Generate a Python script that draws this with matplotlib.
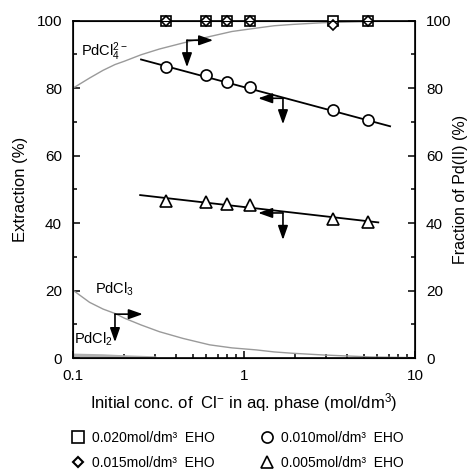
import numpy as np
import matplotlib
matplotlib.use('Agg')
import matplotlib.pyplot as plt
from matplotlib.lines import Line2D

plt.rcParams['font.family'] = ['Liberation Sans', 'DejaVu Sans']
plt.rcParams['mathtext.fontset'] = 'custom'
plt.rcParams['mathtext.rm'] = 'Liberation Sans'
plt.rcParams['mathtext.default'] = 'regular'
plt.rcParams['font.size'] = 11

# data
conc = [0.35, 0.6, 0.8, 1.08, 3.3, 5.3]
ext_020 = [100, 100, 100, 100, 100, 100]
ext_015 = [100, 100, 100, 100, 98.8, 100]
ext_010 = [86.3, 83.9, 81.7, 80.2, 73.5, 70.5]
ext_005 = [46.6, 46.3, 45.6, 45.5, 41.1, 40.4]

# fitted lines (end points)
fit_x_010 = [0.25, 7.15]
fit_y_010 = [88.5, 68.7]
fit_x_005 = [0.247, 6.1]
fit_y_005 = [48.3, 40.2]

# species fractions
spec_x = [0.1, 0.125, 0.15, 0.176, 0.2, 0.25, 0.32, 0.44, 0.63, 0.85, 1.18, 1.5, 1.93, 2.9, 4.0, 5.6, 7.5, 10]
pdcl4 = [80.0, 83.0, 85.3, 87.0, 88.0, 89.9, 91.6, 93.4, 95.3, 96.8, 97.8, 98.5, 98.9, 99.4, 99.6, 99.8, 99.85, 99.9]
pdcl3 = [20.1, 16.5, 14.5, 13.2, 11.8, 9.8, 7.8, 5.8, 3.9, 3.0, 2.4, 1.8, 1.4, 0.9, 0.6, 0.3, 0.2, 0.1]
pdcl2_x = [0.1, 0.15, 0.2, 0.3]
pdcl2 = [0.8, 0.6, 0.3, 0.0]

fig = plt.figure(figsize=(4.7, 4.7), dpi=100)
ax = fig.add_axes([73/470, 1-358/470, 342/470, 337.3/470])
ax.set_xscale('log')
ax.set_xlim(0.1, 10)
ax.set_ylim(0, 100)

gray = '#9a9a9a'
ax.plot(spec_x, pdcl4, color=gray, lw=1.0)
ax.plot(spec_x, pdcl3, color=gray, lw=1.0)
ax.plot(pdcl2_x, pdcl2, color='#b0b0b0', lw=2.5)

ax.plot(fit_x_010, fit_y_010, color='k', lw=1.3)
ax.plot(fit_x_005, fit_y_005, color='k', lw=1.3)

mk = dict(ls='none', mfc='white', mec='k', mew=1.2, clip_on=False, zorder=5)
ax.plot(conc, ext_020, marker='s', ms=7.5, **mk)
ax.plot(conc, ext_015, marker='D', ms=5, **mk)
ax.plot(conc, ext_010, marker='o', ms=8, **mk)
ax.plot(conc, ext_005, marker='^', ms=8, **mk)

# L-shaped arrows: (corner, horizontal tip, vertical tip)
arrows = [((0.464, 94.2), (0.66, 94.2), (0.464, 86.2)),
          ((1.69, 77.0), (1.21, 77.0), (1.69, 69.3)),
          ((1.69, 43.0), (1.21, 43.0), (1.69, 35.0)),
          ((0.176, 13.0), (0.256, 13.0), (0.176, 4.7))]
aprops = dict(arrowstyle='-|>,head_length=0.85,head_width=0.3', color='k',
              lw=1.2, shrinkA=0, shrinkB=0, mutation_scale=10)
for corner, htip, vtip in arrows:
    ax.annotate('', xy=htip, xytext=corner, arrowprops=aprops)
    ax.annotate('', xy=vtip, xytext=corner, arrowprops=aprops)

ax.text(0.112, 90.7, r'PdCl$_4^{2-}$', fontsize=10.5, va='center')
ax.text(0.135, 20.3, r'PdCl$_3$', fontsize=10.5, va='center')
ax.text(0.101, 5.4, r'PdCl$_2$', fontsize=10.5, va='center')

ax.set_yticks([0, 20, 40, 60, 80, 100])
ax.set_yticks([10, 30, 50, 70, 90], minor=True)
ax.xaxis.set_major_formatter(matplotlib.ticker.FuncFormatter(lambda x, p: format(x, 'g')))
ax.tick_params(which='both', direction='in', top=False, right=False, width=1.1)
ax.tick_params(which='major', length=5, pad=8)
ax.tick_params(which='minor', length=3)
for s in ax.spines.values():
    s.set_linewidth(1.2)

ax.set_xlabel(r'Initial conc. of  Cl$^{-}$ in aq. phase (mol/dm$^3$)', fontsize=12, labelpad=6)
ax.set_ylabel('Extraction (%)', fontsize=12, labelpad=6)

ax2 = ax.twinx()
ax2.set_ylim(0, 100)
ax2.set_yticks([0, 20, 40, 60, 80, 100])
ax2.set_yticks([10, 30, 50, 70, 90], minor=True)
ax2.tick_params(which='both', direction='in', width=1.1)
ax2.tick_params(which='major', length=5, pad=8)
ax2.tick_params(which='minor', length=3)
ax2.set_ylabel('Fraction of Pd(II) (%)', fontsize=11.5, labelpad=1)

handles = [Line2D([], [], marker='s', ms=8, ls='none', mfc='white', mec='k', mew=1.2),
           Line2D([], [], marker='D', ms=5.5, ls='none', mfc='white', mec='k', mew=1.5),
           Line2D([], [], marker='o', ms=8, ls='none', mfc='white', mec='k', mew=1.2),
           Line2D([], [], marker='^', ms=8, ls='none', mfc='white', mec='k', mew=1.2)]
labels = ['0.020mol/dm³  EHO', '0.015mol/dm³  EHO',
          '0.010mol/dm³  EHO', '0.005mol/dm³  EHO']
fig.legend(handles, labels, ncol=2, frameon=False, loc='upper left',
           bbox_to_anchor=(57/470, 1-418/470), handlelength=1.2, handletextpad=0.4,
           columnspacing=3.2, labelspacing=0.85, fontsize=10)

fig.savefig('out.png', dpi=100)
